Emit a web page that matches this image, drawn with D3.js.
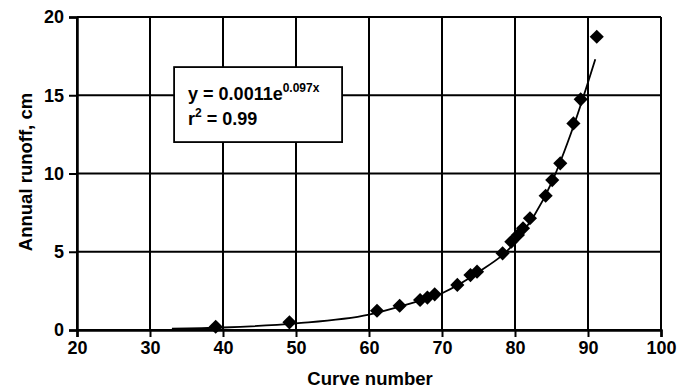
<!DOCTYPE html>
<html>
<head>
  <style>
    body { margin: 0; background: #fff; }
    text { font-family: "Liberation Sans", Arial, sans-serif; font-weight: bold; fill: #000; }
  </style>
  <script src="https://cdn.jsdelivr.net/npm/d3@7/dist/d3.min.js"></script>
</head>
<body>
<script>
  // Observed points (curve number vs annual runoff)
  const curveNumber = [39, 49.1, 61.1, 64.2, 67, 68, 69, 72.1, 73.9, 74.8, 78.3, 79.5, 80.4, 81.1, 82.05, 84.2, 85.1, 86.2, 88, 89, 91.2];
  const runoff      = [0.21, 0.49, 1.23, 1.55, 1.92, 2.07, 2.28, 2.88, 3.51, 3.73, 4.9, 5.64, 6.07, 6.5, 7.14, 8.58, 9.58, 10.65, 13.2, 14.74, 18.74];

  // Trend line
  const trendX = [33, 40, 50, 60, 65, 70, 75, 80, 85, 88, 91];
  const trendY = [0.08, 0.16, 0.42, 0.98, 1.6, 2.35, 3.7, 5.6, 9.4, 13.0, 17.3];

  const xTicks = [20, 30, 40, 50, 60, 70, 80, 90, 100];
  const yTicks = [0, 5, 10, 15, 20];

  const width = 689, height = 390;
  const margin = {top: 17, right: 28, bottom: 60, left: 77};

  const svg = d3.select("body").append("svg")
      .attr("width", width)
      .attr("height", height);

  const x = d3.scaleLinear().domain([20, 100]).range([margin.left, width - margin.right]);
  const y = d3.scaleLinear().domain([0, 20]).range([height - margin.bottom, margin.top]);

  // grid
  const grid = svg.append("g").attr("id", "grid");
  grid.selectAll(".vg").data(xTicks).enter().append("line")
      .attr("x1", d => x(d)).attr("x2", d => x(d))
      .attr("y1", y(0)).attr("y2", y(20))
      .attr("stroke", "#000").attr("stroke-width", 2);
  grid.selectAll(".hg").data(yTicks).enter().append("line")
      .attr("x1", x(20)).attr("x2", x(100))
      .attr("y1", d => y(d)).attr("y2", d => y(d))
      .attr("stroke", "#000").attr("stroke-width", 2);

  // axes
  const xAxis = svg.append("g")
      .attr("id", "x_axis")
      .attr("transform", "translate(0," + y(0) + ")")
      .call(d3.axisBottom(x).tickValues(xTicks).tickSize(7).tickPadding(4));
  const yAxis = svg.append("g")
      .attr("id", "y_axis")
      .attr("transform", "translate(" + x(20) + ",0)")
      .call(d3.axisLeft(y).tickValues(yTicks).tickSize(8).tickPadding(5));
  [xAxis, yAxis].forEach(g => {
    g.select(".domain").attr("stroke", "#000").attr("stroke-width", 2.5);
    g.selectAll(".tick line").attr("stroke", "#000").attr("stroke-width", 2);
    g.selectAll(".tick text").style("font-size", "18px").attr("fill", "#000");
  });

  // trend line
  svg.append("path")
      .datum(trendX.map((d, i) => [d, trendY[i]]))
      .attr("fill", "none")
      .attr("stroke", "#000")
      .attr("stroke-width", 1.8)
      .attr("d", d3.line().x(d => x(d[0])).y(d => y(d[1])).curve(d3.curveMonotoneX));

  // markers
  svg.append("g").selectAll("path")
      .data(curveNumber.map((d, i) => [d, runoff[i]]))
      .enter().append("path")
      .attr("transform", d => "translate(" + x(d[0]) + "," + y(d[1]) + ") rotate(45)")
      .attr("d", d3.symbol(d3.symbolSquare, 100))
      .attr("fill", "#000");

  // equation box
  const bx = x(33.3), by = y(16.8);
  svg.append("rect")
      .attr("x", bx).attr("y", by)
      .attr("width", 168).attr("height", 75)
      .attr("fill", "#fff").attr("stroke", "#000").attr("stroke-width", 1.8);
  const eq = svg.append("text").attr("x", bx + 14).attr("y", by + 33).style("font-size", "18px");
  eq.append("tspan").text("y = 0.0011e");
  eq.append("tspan").attr("dy", -8).style("font-size", "12px").text("0.097x");
  const r2 = svg.append("text").attr("x", bx + 14).attr("y", by + 58).style("font-size", "18px");
  r2.append("tspan").text("r");
  r2.append("tspan").attr("dy", -8).style("font-size", "12px").text("2");
  r2.append("tspan").attr("dy", 8).text(" = 0.99");

  // axis titles
  svg.append("text")
      .attr("x", 370).attr("y", 385)
      .attr("text-anchor", "middle")
      .style("font-size", "18.5px")
      .text("Curve number");
  svg.append("text")
      .attr("transform", "translate(32," + 172 + ") rotate(-90)")
      .attr("text-anchor", "middle")
      .style("font-size", "18.5px")
      .text("Annual runoff, cm");
</script>
</body>
</html>
